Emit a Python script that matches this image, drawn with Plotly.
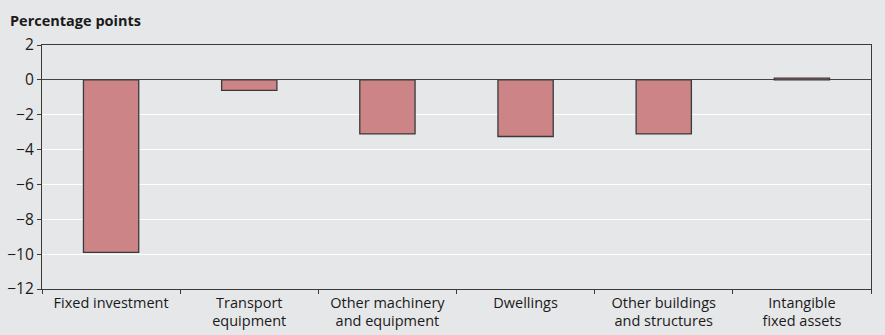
import plotly.graph_objects as go

categories = [
    "Fixed investment",
    "Transport<br>equipment",
    "Other machinery<br>and equipment",
    "Dwellings",
    "Other buildings<br>and structures",
    "Intangible<br>fixed assets",
]
values = [-9.9, -0.6, -3.1, -3.25, -3.1, 0.1]
y_ticks = [2, 0, -2, -4, -6, -8, -10, -12]

BG = "#e6e7e9"
BAR = "#cd8487"
EDGE = "#3a3a3a"
FONT = "Open Sans"

fig = go.Figure(
    go.Bar(
        x=categories,
        y=values,
        width=0.4,
        marker=dict(color=BAR, line=dict(color=EDGE, width=1.3)),
    )
)

fig.update_layout(
    width=885,
    height=335,
    margin=dict(l=42, r=14, t=45, b=46),
    paper_bgcolor=BG,
    plot_bgcolor=BG,
    showlegend=False,
    font=dict(family=FONT, size=14.5, color="#1a1a1a"),
    annotations=[
        dict(
            text="<b>Percentage points</b>",
            xref="paper", yref="paper",
            x=-34 / 829, y=1.0,
            xanchor="left", yanchor="bottom",
            yshift=13,
            showarrow=False,
            font=dict(family=FONT, size=14.5, color="#1a1a1a"),
        )
    ],
)

fig.update_xaxes(
    automargin=False,
    showline=True, linecolor=EDGE, linewidth=1.3, mirror=True,
    ticks="outside", tickson="boundaries", ticklen=4, tickcolor=EDGE,
    showgrid=False,
    tickfont=dict(size=14.5),
)
fig.update_yaxes(
    automargin=False,
    range=[-12, 2],
    tickvals=y_ticks,
    showline=True, linecolor=EDGE, linewidth=1.3, mirror=True,
    ticks="outside", ticklen=4, tickcolor=EDGE,
    showgrid=True, gridcolor="#ffffff", gridwidth=1.3,
    zeroline=True, zerolinecolor="#444444", zerolinewidth=1.3,
    tickfont=dict(size=15.5),
)

fig.write_html("out.html")
